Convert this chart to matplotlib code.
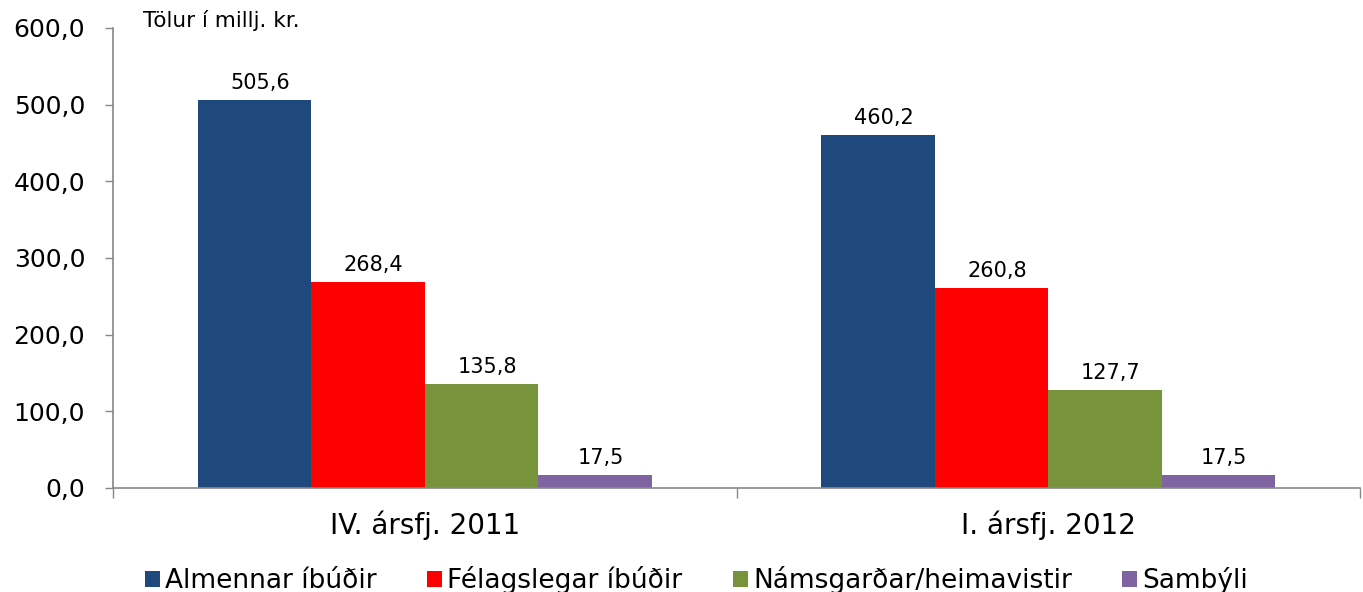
import numpy as np
import matplotlib
matplotlib.use("Agg")
import matplotlib.pyplot as plt
from matplotlib.ticker import FuncFormatter

# data
categories = ["IV. ársfj. 2011", "I. ársfj. 2012"]
series = ["Almennar íbúðir", "Félagslegar íbúðir", "Námsgarðar/heimavistir", "Sambýli"]
almennar = [505.6, 460.2]
felagslegar = [268.4, 260.8]
namsgardar = [135.8, 127.7]
sambyli = [17.5, 17.5]
colors = ["#1F497D", "#FF0000", "#77933C", "#8064A2"]

plt.rcParams['font.family'] = ['DejaVu Sans']

fig = plt.figure(figsize=(13.63, 5.92), dpi=100)
ax = fig.add_axes([113/1363, 104/592, 1247/1363, 460/592])

x = np.arange(len(categories))
width = 0.182
values = [almennar, felagslegar, namsgardar, sambyli]
for i, (vals, name, c) in enumerate(zip(values, series, colors)):
    pos = x + (i - 1.5) * width
    bars = ax.bar(pos, vals, width, color=c, label=name, linewidth=0)
    for b, v in zip(bars, vals):
        ax.annotate(f"{v:.1f}".replace(".", ","),
                    (b.get_x() + b.get_width() / 2, v),
                    xytext=(4, 5), textcoords="offset points",
                    ha="center", va="bottom", fontsize=15)

ax.set_xlim(-0.5, 1.5)
ax.set_ylim(0, 600)
ax.set_yticks(np.arange(0, 601, 100))
ax.yaxis.set_major_formatter(FuncFormatter(lambda v, p: f"{v:.1f}".replace(".", ",")))
ax.tick_params(axis="y", labelsize=18, length=6, width=1, color="#888888", pad=14)

# boundaries as major ticks, category labels on minor ticks
ax.set_xticks([-0.5, 0.5, 1.5])
ax.set_xticklabels([])
ax.set_xticks(x, minor=True)
ax.set_xticklabels(categories, minor=True, fontsize=20)
ax.tick_params(axis="x", which="major", length=7, width=1, color="#888888")
ax.tick_params(axis="x", which="minor", length=0, pad=16)

for s in ["top", "right"]:
    ax.spines[s].set_visible(False)
for s in ["left", "bottom"]:
    ax.spines[s].set_color("#888888")
    ax.spines[s].set_linewidth(1.2)

fig.text(143/1363, 1 - 10/592, "Tölur í millj. kr.", fontsize=15.5, va="top", ha="left")

fig.legend(loc="center", bbox_to_anchor=(0.511, 0.02), ncol=4, frameon=False,
           fontsize=19, handlelength=0.57, handleheight=0.57,
           handletextpad=0.2, columnspacing=1.9)

fig.savefig("out.png", dpi=100)
